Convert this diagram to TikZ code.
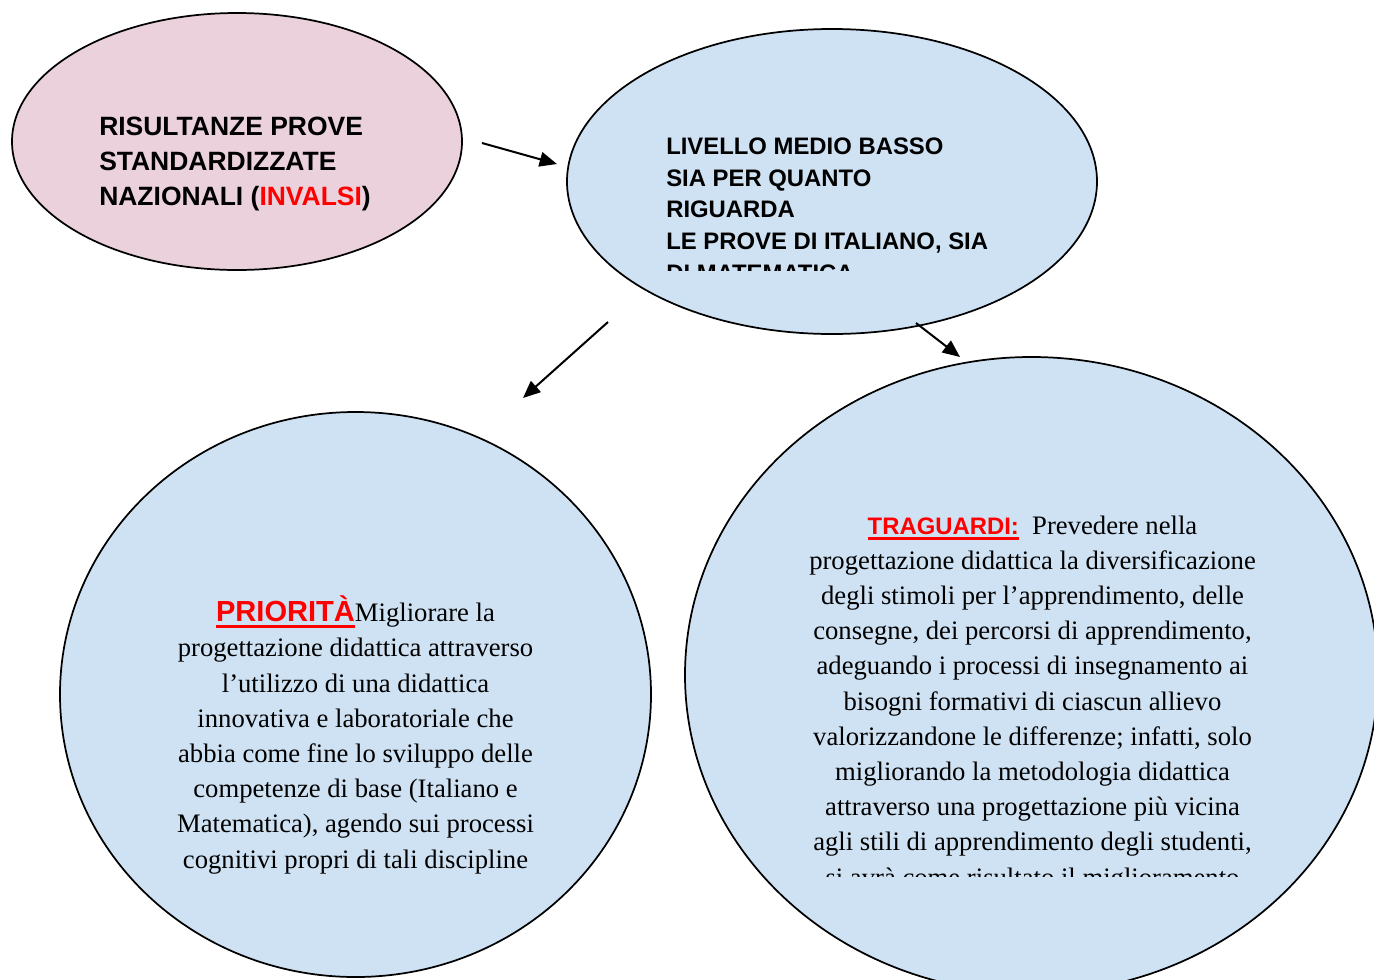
\documentclass[tikz,border=0pt]{standalone}
\usepackage{fontspec}
\setmainfont{Liberation Serif}
\setsansfont{Liberation Sans}
\usetikzlibrary{shapes.geometric,arrows.meta}
\definecolor{pinkfill}{HTML}{EAD1DC}
\definecolor{bluefill}{HTML}{CFE2F3}
\definecolor{redtxt}{HTML}{FF0000}
\newcommand\redul[1]{\setbox0\hbox{#1}\rlap{\rule[-4.5pt]{\wd0}{2pt}}\box0}
\tikzset{
  bubble/.style={ellipse, draw=black, line width=1.3pt, inner sep=0pt},
  arr/.style={line width=1.5pt, -{Triangle[length=13pt,width=11pt]}},
  boldlbl/.style={inner sep=0pt, align=left, font=\sffamily\bfseries},
  bodytxt/.style={inner sep=0pt, align=center, font=\fontsize{20pt}{26.4pt}\selectfont},
}
\begin{document}
\begin{tikzpicture}[x=0.75pt,y=-0.75pt]
\useasboundingbox (0,0) rectangle (1374,979);
% bubbles
\node[bubble, fill=pinkfill, minimum width=337.5pt, minimum height=192.75pt] (res) at (237,141.5) {};
\node[bubble, fill=bluefill, minimum width=397.5pt, minimum height=228.75pt] (liv) at (832,181.5) {};
\node[bubble, fill=bluefill, minimum width=443.25pt, minimum height=423.75pt] (pri) at (355.5,694.5) {};
\node[bubble, fill=bluefill, minimum width=519.75pt, minimum height=477pt] (tra) at (1031.5,675) {};
% texts (base anchor = baseline of the last line)
\node[boldlbl, anchor=base west, font=\sffamily\bfseries\fontsize{19.85pt}{26.25pt}\selectfont] (restxt) at (99,205)
  {RISULTANZE PROVE\\STANDARDIZZATE\\NAZIONALI (\textcolor{redtxt}{INVALSI})};
\begin{scope}
\clip (560,0) rectangle (1100,270);
\node[boldlbl, anchor=base west, font=\sffamily\bfseries\fontsize{17.9pt}{23.7pt}\selectfont] (livtxt) at (666,281)
  {LIVELLO MEDIO BASSO\\SIA PER QUANTO\\RIGUARDA\\LE PROVE DI ITALIANO, SIA\\DI MATEMATICA};
\end{scope}
\node[bodytxt, anchor=base] (pritxt) at (355.5,868)
  {\textcolor{redtxt}{\redul{\sffamily\bfseries\fontsize{21.8pt}{26.4pt}\selectfont PRIORITÀ}}Migliorare la\\
   progettazione didattica attraverso\\
   l’utilizzo di una didattica\\
   innovativa e laboratoriale che\\
   abbia come fine lo sviluppo delle\\
   competenze di base (Italiano e\\
   Matematica), agendo sui processi\\
   cognitivi propri di tali discipline};
\begin{scope}
\clip (690,400) rectangle (1374,876);
\node[bodytxt, anchor=base] (tratxt) at (1032.5,886)
  {\textcolor{redtxt}{\redul{\sffamily\bfseries\fontsize{17.9pt}{26.4pt}\selectfont TRAGUARDI:}}\ \ Prevedere nella\\
   progettazione didattica la diversificazione\\
   degli stimoli per l’apprendimento, delle\\
   consegne, dei percorsi di apprendimento,\\
   adeguando i processi di insegnamento ai\\
   bisogni formativi di ciascun allievo\\
   valorizzandone le differenze; infatti, solo\\
   migliorando la metodologia didattica\\
   attraverso una progettazione più vicina\\
   agli stili di apprendimento degli studenti,\\
   si avrà come risultato il miglioramento};
\end{scope}
% arrows
\coordinate (a1s) at (482,143);
\coordinate (a1e) at (557,164);
\coordinate (a2s) at (608,322);
\coordinate (a2e) at (523,398);
\coordinate (a3s) at (916,323);
\coordinate (a3e) at (960,357);
\draw[arr] (a1s) -- (a1e);
\draw[arr] (a2s) -- (a2e);
\draw[arr] (a3s) -- (a3e);
\end{tikzpicture}
\end{document}
